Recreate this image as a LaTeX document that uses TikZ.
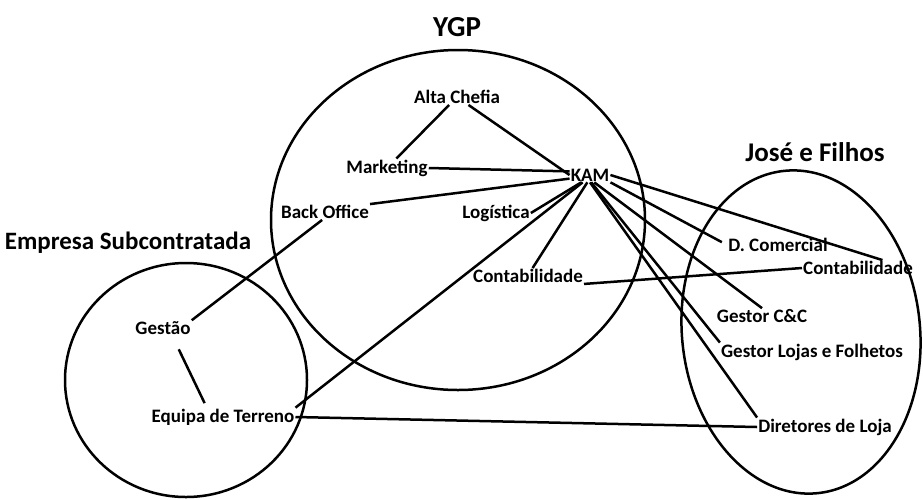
\documentclass[tikz,border=0pt]{standalone}
\usepackage{fontspec}
\setmainfont{Carlito}
\begin{document}
\begin{tikzpicture}[x=1pt,y=-1pt,
        lbl/.style={font=\bfseries\fontsize{19}{21}\selectfont, inner sep=1pt},
        ttl/.style={font=\bfseries\fontsize{25}{28}\selectfont, inner sep=1pt},
        lnk/.style={line width=2.5pt},
        grp/.style={line width=2.5pt}]
    \useasboundingbox (0,0) rectangle (923,499);
    \draw[grp] (458,220) ellipse (187 and 170);
    \draw[grp] (186,380) ellipse (121 and 117);
    \draw[grp, rotate around={6:(801,332)}] (801,332) ellipse (119 and 162);

    \node[ttl, font=\bfseries\fontsize{29}{32}\selectfont] (ygp) at (457,27) {YGP};
    \node[ttl, font=\bfseries\fontsize{27}{30}\selectfont] (jf) at (815,152) {José e Filhos};
    \node[ttl] (sub) at (128,243) {Empresa Subcontratada};

    \node[lbl] (chefia) at (457,97) {Alta Chefia};
    \node[lbl] (mkt) at (387,168) {Marketing};
    \node[lbl] (kam) at (590,175) {KAM};
    \node[lbl] (bo) at (325,212) {Back Office};
    \node[lbl] (log) at (496,213) {Logística};
    \node[lbl] (contY) at (528,276) {Contabilidade};
    \node[lbl] (dcom) at (778,245) {D. Comercial};
    \node[lbl] (contJ) at (858,268) {Contabilidade};
    \node[lbl] (gcc) at (762,316) {Gestor C\&C};
    \node[lbl] (glf) at (812,352) {Gestor Lojas e Folhetos};
    \node[lbl] (dir) at (825,427) {Diretores de Loja};
    \node[lbl] (gestao) at (163,328) {Gestão};
    \node[lbl] (equipa) at (223,417) {Equipa de Terreno};

    \draw[lnk] (chefia) -- (mkt);
    \draw[lnk] (chefia) -- (kam.west);
    \draw[lnk] (mkt.east) -- (kam.170);
    \draw[lnk] (bo.10) -- (kam.190);
    \draw[lnk] (log.east) -- (kam.220);
    \draw[lnk] (equipa.north east) -- (kam.225);
    \draw[lnk] (kam.250) -- (contY.60);
    \draw[lnk] (contY.south east) -- (contJ.west);
    \draw[lnk] (kam.east) -- (contJ.18);
    \draw[lnk, shorten >=6pt] (kam.south east) -- (dcom.west);
    \draw[lnk] (kam.300) -- (gcc.north);
    \draw[lnk] (kam.280) -- (glf.north west);
    \draw[lnk] (kam.270) -- (dir.north west);
    \draw[lnk] (bo.250) -- (gestao.north east);
    \draw[lnk, shorten <=15pt, shorten >=5pt] (gestao.320) -- (equipa.150);
    \draw[lnk] (equipa.east) -- (dir.west);
\end{tikzpicture}
\end{document}
